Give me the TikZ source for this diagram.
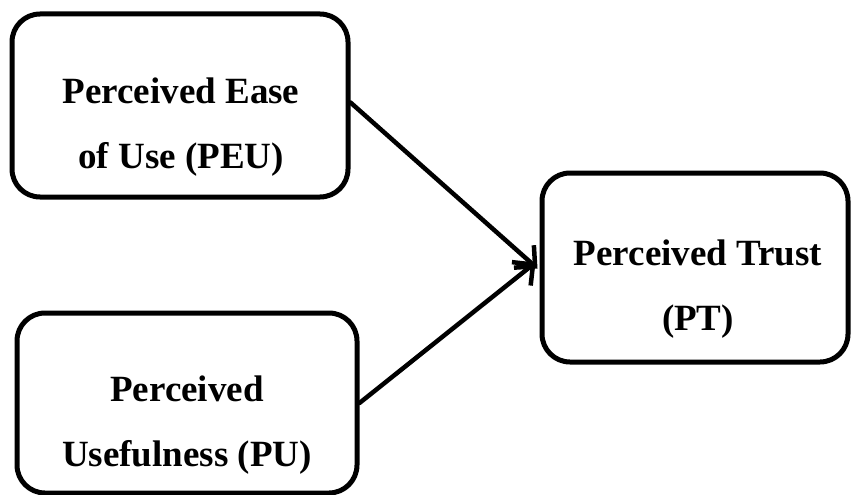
\documentclass[tikz,border=0pt]{standalone}
\usepackage{fontspec}
\setmainfont{Liberation Serif}
\usetikzlibrary{arrows.meta}
\begin{document}
\begin{tikzpicture}[x=1pt,y=-1pt,
  boxstyle/.style={draw=black, line width=5pt, rounded corners=28pt, inner sep=0pt, fill=white},
  labelstyle/.style={font=\fontsize{37}{65}\selectfont\bfseries, align=center, inner sep=0pt},
  conn/.style={line width=4.5pt, line cap=round, -{Straight Barb[length=15pt,width=30pt,line width=4.5pt]}}]
\useasboundingbox (0,0) rectangle (851,495);
\node[boxstyle, minimum width=336pt, minimum height=183pt] (peu) at (180,105.5) {};
\node[boxstyle, minimum width=340pt, minimum height=180pt] (pu) at (187,403) {};
\node[boxstyle, minimum width=306pt, minimum height=189pt] (pt) at (695,267.5) {};
\node[labelstyle] (peut) at (181,127) {Perceived Ease\\of Use (PEU)};
\node[labelstyle] (put) at (187,425) {Perceived\\Usefulness (PU)};
\node[labelstyle] (ptt) at (698,289) {Perceived Trust\\(PT)};
\draw[conn] ([yshift=3pt]peu.east) -- ([xshift=-2pt,yshift=-1pt]pt.west);
\draw[conn] (pu.east) -- ([xshift=-4pt,yshift=5pt]pt.west);
\end{tikzpicture}
\end{document}
